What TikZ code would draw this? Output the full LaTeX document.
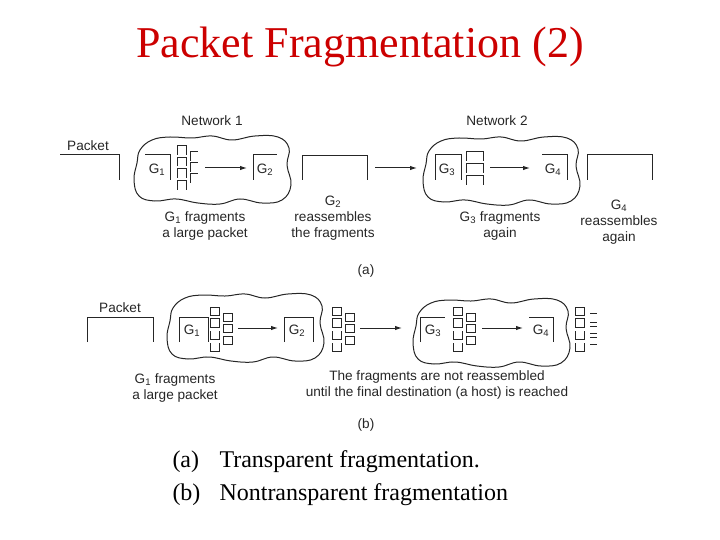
\documentclass[tikz,border=0pt]{standalone}
\usepackage{fontspec}
\setmainfont{Liberation Serif}
\setsansfont{Liberation Sans}
\usepackage{tikz}
\usetikzlibrary{positioning, arrows.meta, calc}

\definecolor{titlered}{RGB}{204,0,0}

% Fragmentteile: x, y (oben links), Breite, Hoehe
\newcommand{\capbox}[4]{\draw (#1,#2+#4) -- (#1,#2) -- (#1+#3,#2) -- (#1+#3,#2+#4);}
\newcommand{\cupbox}[4]{\draw (#1,#2) -- (#1,#2+#4) -- (#1+#3,#2+#4) -- (#1+#3,#2);}
\newcommand{\sqbox}[4]{\draw (#1,#2) rectangle (#1+#3,#2+#4);}
\newcommand{\gambox}[4]{\draw (#1,#2+#4) -- (#1,#2) -- (#1+#3,#2);}
% Netzwolke, verschoben
\newcommand{\netcloud}[1]{\draw[shift={#1}] plot[smooth cycle, tension=0.7] coordinates {
  (140,150) (152,140) (170,137) (192,138) (212,136) (232,140) (255,136) (278,137)
  (289,148) (287,165) (291,185) (282,200) (262,203) (240,199) (220,204) (198,203)
  (176,199) (155,201) (139,196) (134,180) (137,163)};}

\tikzset{
  lbl/.style={font=\sffamily\fontsize{13.6}{15.8}\selectfont, text=black!85, align=center, inner sep=0pt},
  capt/.style={font=\rmfamily\fontsize{24}{28}\selectfont, anchor=west, inner sep=0pt},
}

\begin{document}
\begin{tikzpicture}[x=1pt, y=-1pt, >={Latex[length=7pt,width=4.5pt]}, line width=1pt, draw=black!85]
\useasboundingbox (0,0) rectangle (720,540);

% Titel
\node[text=titlered, font=\rmfamily\fontsize{44}{48}\selectfont, inner sep=0pt] (title) at (360,47) {Packet Fragmentation (2)};

%%%%% (a) transparent
\node[lbl] (pkta) at (88,146) {Packet};
\draw (60,155) -- (119,155) -- (119,180);

\netcloud{(0,0)}
\node[lbl] (net1) at (212,121) {Network 1};
\draw (145,155) -- (170,155) -- (170,180);
\node[lbl] (g1a) at (157,170) {G\textsubscript{1}};
% Fragmente bei G1
\capbox{177}{146}{9}{9} \capbox{177}{157.5}{9}{9} \capbox{177}{169}{9}{9} \capbox{177}{181}{9}{9}
\gambox{190}{152}{8}{9} \gambox{190}{163}{8}{9} \gambox{190}{174}{8}{9}
\coordinate (a1s) at (205,168);
\coordinate (a1e) at (247,168);
\draw[->] (a1s) -- (a1e);
\draw (253,180) -- (253,155) -- (277,155);
\node[lbl] (g2a) at (265,170) {G\textsubscript{2}};

% wieder zusammengesetzt
\draw (302,180) -- (302,156) -- (367,156) -- (367,180);
\coordinate (a2s) at (375,168);
\coordinate (a2e) at (417,168);
\draw[->] (a2s) -- (a2e);

\netcloud{(289,1)}
\node[lbl] (net2) at (497,121) {Network 2};
\draw (435,180) -- (435,155) -- (461,155) -- (461,180);
\node[lbl] (g3a) at (447,170) {G\textsubscript{3}};
\capbox{466}{152}{17}{9} \capbox{466}{164}{17}{9} \capbox{466}{176}{17}{9}
\coordinate (a3s) at (490,168);
\coordinate (a3e) at (530,168);
\draw[->] (a3s) -- (a3e);
\draw (542,155) -- (567,155) -- (567,180);
\node[lbl] (g4a) at (553,170) {G\textsubscript{4}};

\draw (587,180) -- (587,155) -- (652,155) -- (652,180);

\node[lbl] (txa1) at (205,226) {G\textsubscript{1} fragments\\a large packet};
\node[lbl] (txa2) at (333,218) {G\textsubscript{2}\\reassembles\\the fragments};
\node[lbl] (txa3) at (500,226) {G\textsubscript{3} fragments\\again};
\node[lbl] (txa4) at (619,222) {G\textsubscript{4}\\reassembles\\again};
\node[lbl] (laba) at (366,271) {(a)};

%%%%% (b) nicht transparent
\node[lbl] (pktb) at (120,308) {Packet};
\draw (87,342) -- (87,317) -- (153,317) -- (153,342);

\netcloud{(33,158)}
\draw (179,342) -- (179,317) -- (208,317) -- (208,342);
\node[lbl] (g1b) at (192,331) {G\textsubscript{1}};
\foreach \fx in {210,332,453}{
  \sqbox{\fx}{307}{9}{8} \sqbox{\fx}{318}{9}{9} \cupbox{\fx}{331}{9}{8} \cupbox{\fx}{343}{9}{8}
  \sqbox{\fx+13}{313}{9}{8} \sqbox{\fx+13}{324}{9}{8} \sqbox{\fx+13}{336}{9}{8}
}
\coordinate (b1s) at (238,328);
\coordinate (b1e) at (278,328);
\draw[->] (b1s) -- (b1e);
\draw (284,342) -- (284,317) -- (313,317) -- (313,342);
\node[lbl] (g2b) at (297,331) {G\textsubscript{2}};

\coordinate (b2s) at (360,328);
\coordinate (b2e) at (402,328);
\draw[->] (b2s) -- (b2e);

\netcloud{(279,163)}
\draw (420,342) -- (420,317) -- (445,317);
\node[lbl] (g3b) at (433,331) {G\textsubscript{3}};
\coordinate (b3s) at (482,328);
\coordinate (b3e) at (523,328);
\draw[->] (b3s) -- (b3e);
\draw (529,317) -- (553,317) -- (553,342);
\node[lbl] (g4b) at (541,331) {G\textsubscript{4}};

% beim Ziel
\sqbox{575}{307}{9}{8} \sqbox{575}{318}{9}{9} \cupbox{575}{331}{9}{8} \cupbox{575}{343}{9}{8}
\draw (590,313) -- (597,313);
\draw (590,322) -- (597,322) (590,326) -- (597,326);
\draw (590,333) -- (597,333) (590,337) -- (597,337);
\draw (590,344) -- (597,344);

\node[lbl] (txb1) at (175,388) {G\textsubscript{1} fragments\\a large packet};
\node[lbl] (txb2) at (437,385) {The fragments are not reassembled\\until the final destination (a host) is reached};
\node[lbl] (labb) at (366,425) {(b)};

% Bildunterschrift
\node[capt] (capa) at (172,462) {(a)};
\node[capt] (capat) at (219,462) {Transparent fragmentation.};
\node[capt] (capb) at (172,495) {(b)};
\node[capt] (capbt) at (219,495) {Nontransparent fragmentation};

\end{tikzpicture}
\end{document}
